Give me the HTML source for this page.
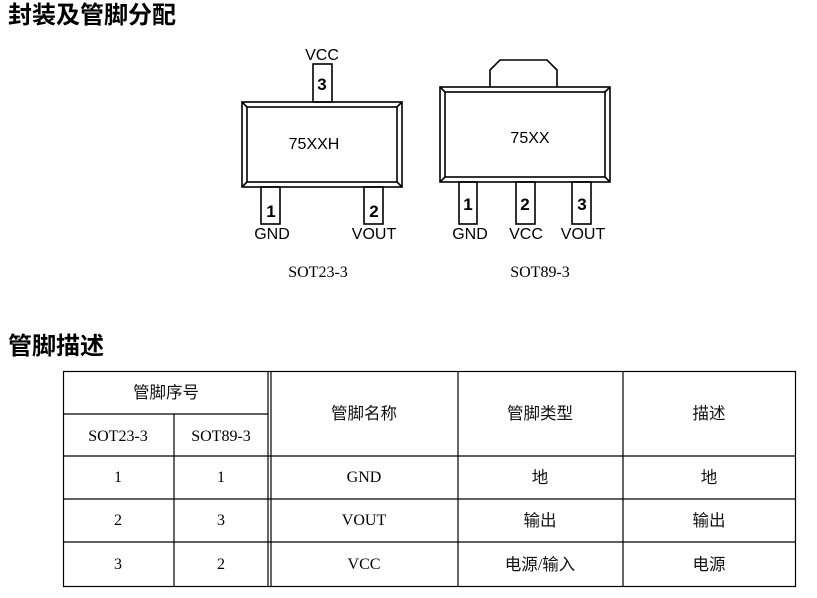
<!DOCTYPE html>
<html><head><meta charset="utf-8"><style>
body{margin:0;background:#fff;width:817px;height:598px;overflow:hidden}
svg{display:block}
.h{font-family:"Liberation Sans","Noto Sans CJK SC",sans-serif;font-weight:bold;font-size:24px;fill:#000}
.a{font-family:"Liberation Sans",sans-serif;font-size:16px;fill:#000}
.b{font-family:"Liberation Sans",sans-serif;font-size:17px;font-weight:bold;fill:#000}
.s{font-family:"Liberation Serif","Noto Serif CJK SC",serif;font-size:16px;fill:#000}
.t{font-family:"Liberation Serif","Noto Sans CJK SC",sans-serif;font-size:16.5px;fill:#111}
</style></head><body>
<svg width="817" height="598" viewBox="0 0 817 598">
<text class="h" x="8" y="23">封装及管脚分配</text>
<text class="h" x="8" y="354">管脚描述</text>
<g stroke="#000" stroke-width="1.6" fill="none">
<rect x="313" y="64" width="19" height="38"/>
<rect x="242" y="102" width="160" height="85"/>
<rect x="247" y="107" width="150" height="75"/>
<line x1="242" y1="102" x2="247" y2="107"/><line x1="402" y1="102" x2="397" y2="107"/>
<line x1="242" y1="187" x2="247" y2="182"/><line x1="402" y1="187" x2="397" y2="182"/>
<rect x="261" y="187" width="19" height="37"/>
<rect x="364" y="187" width="19" height="37"/>
<path d="M490 87 V70 L500 60 H547 L557 70 V87"/>
<rect x="440" y="87" width="170" height="95"/>
<rect x="445" y="92" width="160" height="85"/>
<line x1="440" y1="87" x2="445" y2="92"/><line x1="610" y1="87" x2="605" y2="92"/>
<line x1="440" y1="182" x2="445" y2="177"/><line x1="610" y1="182" x2="605" y2="177"/>
<rect x="459" y="182" width="18" height="42"/>
<rect x="516" y="182" width="19" height="42"/>
<rect x="572" y="182" width="19" height="42"/>
</g>
<text class="a" x="322" y="60" text-anchor="middle">VCC</text>
<text class="b" x="322" y="90" text-anchor="middle">3</text>
<text class="a" x="314" y="149" text-anchor="middle">75XXH</text>
<text class="b" x="271" y="217" text-anchor="middle">1</text>
<text class="b" x="374" y="217" text-anchor="middle">2</text>
<text class="a" x="272" y="239" text-anchor="middle">GND</text>
<text class="a" x="374" y="239" text-anchor="middle">VOUT</text>
<text class="a" x="530" y="143" text-anchor="middle">75XX</text>
<text class="b" x="468" y="210" text-anchor="middle">1</text>
<text class="b" x="525" y="210" text-anchor="middle">2</text>
<text class="b" x="582" y="210" text-anchor="middle">3</text>
<text class="a" x="470" y="239" text-anchor="middle">GND</text>
<text class="a" x="526" y="239" text-anchor="middle">VCC</text>
<text class="a" x="583" y="239" text-anchor="middle">VOUT</text>
<text class="s" x="318" y="277" text-anchor="middle">SOT23-3</text>
<text class="s" x="540" y="277" text-anchor="middle">SOT89-3</text>
<g stroke="#000" stroke-width="1.2">
<rect x="63.5" y="371.5" width="732" height="215" fill="none"/>
<line x1="63" y1="414" x2="268" y2="414"/>
<line x1="63" y1="456" x2="796" y2="456"/>
<line x1="63" y1="499" x2="796" y2="499"/>
<line x1="63" y1="542" x2="796" y2="542"/>
<line x1="174" y1="414" x2="174" y2="586"/>
<line x1="268" y1="371" x2="268" y2="586"/>
<line x1="271" y1="371" x2="271" y2="586"/>
<line x1="458" y1="371" x2="458" y2="586"/>
<line x1="623" y1="371" x2="623" y2="586"/>
</g>
<text class="t" x="166" y="398" text-anchor="middle">管脚序号</text>
<text class="s" x="118" y="441" text-anchor="middle">SOT23-3</text>
<text class="s" x="221" y="441" text-anchor="middle">SOT89-3</text>
<text class="t" x="364" y="419" text-anchor="middle">管脚名称</text>
<text class="t" x="540" y="419" text-anchor="middle">管脚类型</text>
<text class="t" x="709" y="419" text-anchor="middle">描述</text>
<text class="s" x="118" y="482" text-anchor="middle">1</text>
<text class="s" x="221" y="482" text-anchor="middle">1</text>
<text class="s" x="364" y="482" text-anchor="middle">GND</text>
<text class="t" x="540" y="483" text-anchor="middle">地</text>
<text class="t" x="709" y="483" text-anchor="middle">地</text>
<text class="s" x="118" y="525" text-anchor="middle">2</text>
<text class="s" x="221" y="525" text-anchor="middle">3</text>
<text class="s" x="364" y="525" text-anchor="middle">VOUT</text>
<text class="t" x="540" y="526" text-anchor="middle">输出</text>
<text class="t" x="709" y="526" text-anchor="middle">输出</text>
<text class="s" x="118" y="569" text-anchor="middle">3</text>
<text class="s" x="221" y="569" text-anchor="middle">2</text>
<text class="s" x="364" y="569" text-anchor="middle">VCC</text>
<text class="t" x="540" y="570" text-anchor="middle">电源/输入</text>
<text class="t" x="709" y="570" text-anchor="middle">电源</text>
</svg>
</body></html>
